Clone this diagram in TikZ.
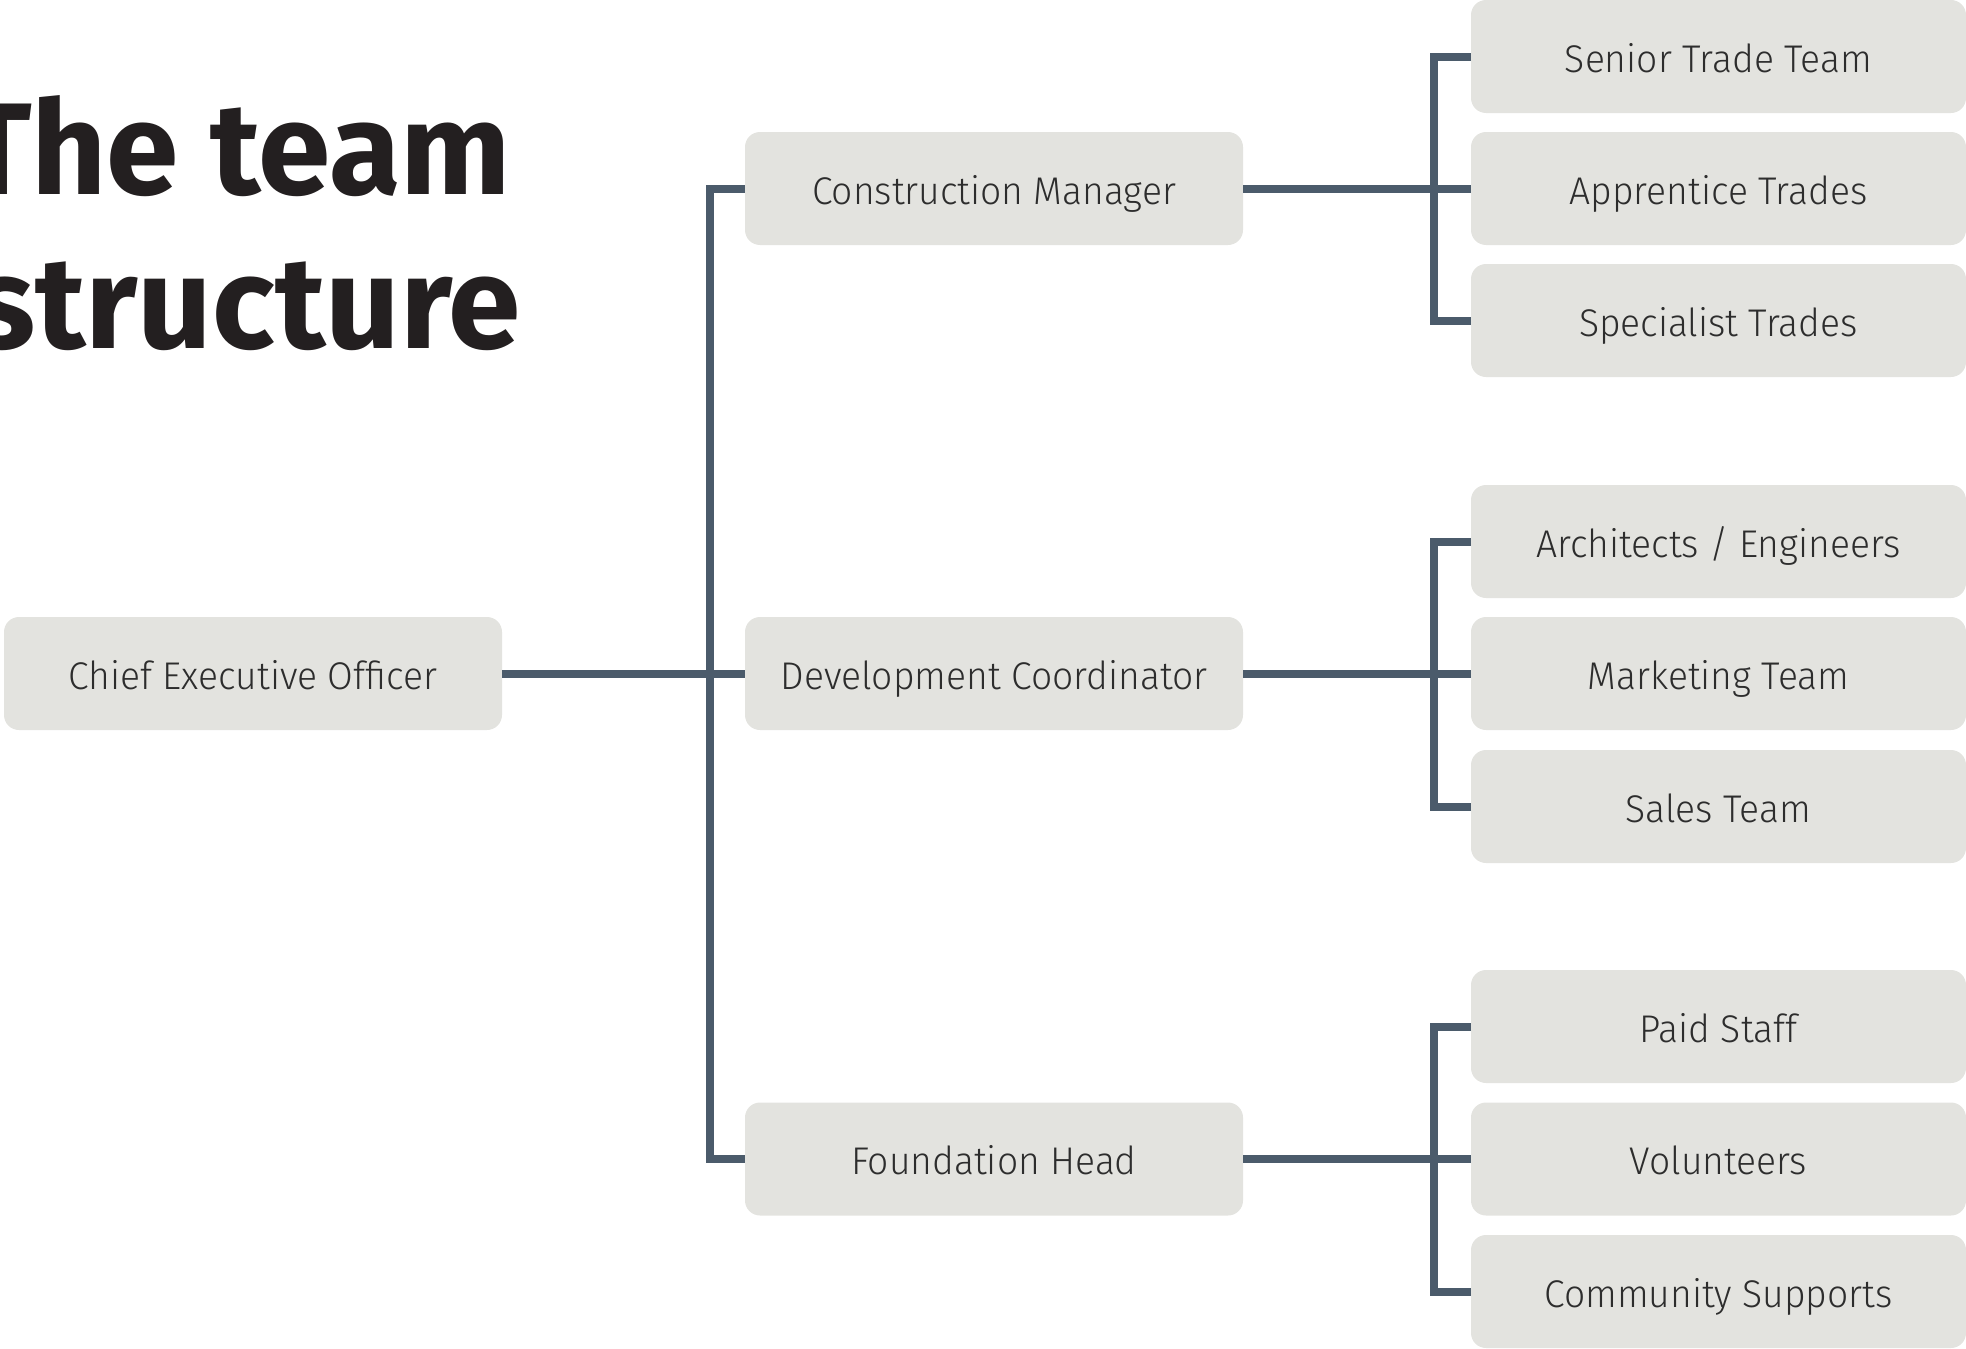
\documentclass[tikz,border=0pt]{standalone}
\usepackage{fontspec}
\newfontfamily\titlefont{Fira Sans}
\newfontfamily\labelfont{Fira Sans Light}[FakeStretch=0.965]
\definecolor{boxfill}{RGB}{227,227,223}
\definecolor{linecol}{RGB}{75,91,107}
\definecolor{titlecol}{RGB}{35,31,32}
\definecolor{labelcol}{RGB}{45,45,45}
\tikzset{
  box/.style={rectangle, rounded corners=15pt, fill=boxfill, draw=none,
    minimum height=113pt, text=labelcol, inner sep=0pt,
    font=\labelfont\fontsize{38.6}{44}\selectfont,
    text height=31.6pt, text depth=0pt, align=center},
  leftbox/.style={box, minimum width=498pt},
  rightbox/.style={box, minimum width=495pt},
  conn/.style={draw=linecol, line width=8pt, line join=miter, line cap=butt},
  titletext/.style={anchor=base east, inner sep=0pt, text=titlecol,
    font=\titlefont\bfseries\fontsize{130.6}{140}\selectfont}
}
\begin{document}
\begin{tikzpicture}[x=1pt,y=-1pt]
\useasboundingbox (0,0) rectangle (1966,1349);
\begin{scope}
\clip (0,0) rectangle (1966,1349);
% title
\node[titletext] (t1) at (511,194) {The team};
\node[titletext] (t2) at (521,348) {structure};
% boxes
\node[leftbox] (ceo) at (253,673.5) {Chief Executive Officer};
\node[leftbox] (cm) at (994,188.5) {Construction Manager};
\node[leftbox] (dc) at (994,673.5) {Development Coordinator};
\node[leftbox] (fh) at (994,1159) {Foundation Head};
\node[rightbox] (r1) at (1718.5,56.5) {Senior Trade Team};
\node[rightbox] (r2) at (1718.5,188.5) {Apprentice Trades};
\node[rightbox] (r3) at (1718.5,320.5) {Specialist Trades};
\node[rightbox] (r4) at (1718.5,541.5) {Architects / Engineers};
\node[rightbox] (r5) at (1718.5,673.5) {Marketing Team};
\node[rightbox] (r6) at (1718.5,806.5) {Sales Team};
\node[rightbox] (r7) at (1718.5,1026.5) {Paid Staff};
\node[rightbox] (r8) at (1718.5,1159) {Volunteers};
\node[rightbox] (r9) at (1718.5,1291.5) {Community Supports};
\coordinate (lv) at (710,0);
\coordinate (rv) at (1434,0);
% connectors
\draw[conn] (ceo.east) -- (dc.west);
\draw[conn] (cm.west) -- (cm.west -| lv) -- (fh.west -| lv) -- (fh.west);
\draw[conn] (cm.east) -- (r2.west);
\draw[conn] (dc.east) -- (r5.west);
\draw[conn] (fh.east) -- (r8.west);
\draw[conn] (r1.west) -- (r1.west -| rv) -- (r3.west -| rv) -- (r3.west);
\draw[conn] (r4.west) -- (r4.west -| rv) -- (r6.west -| rv) -- (r6.west);
\draw[conn] (r7.west) -- (r7.west -| rv) -- (r9.west -| rv) -- (r9.west);
\end{scope}
\end{tikzpicture}
\end{document}
